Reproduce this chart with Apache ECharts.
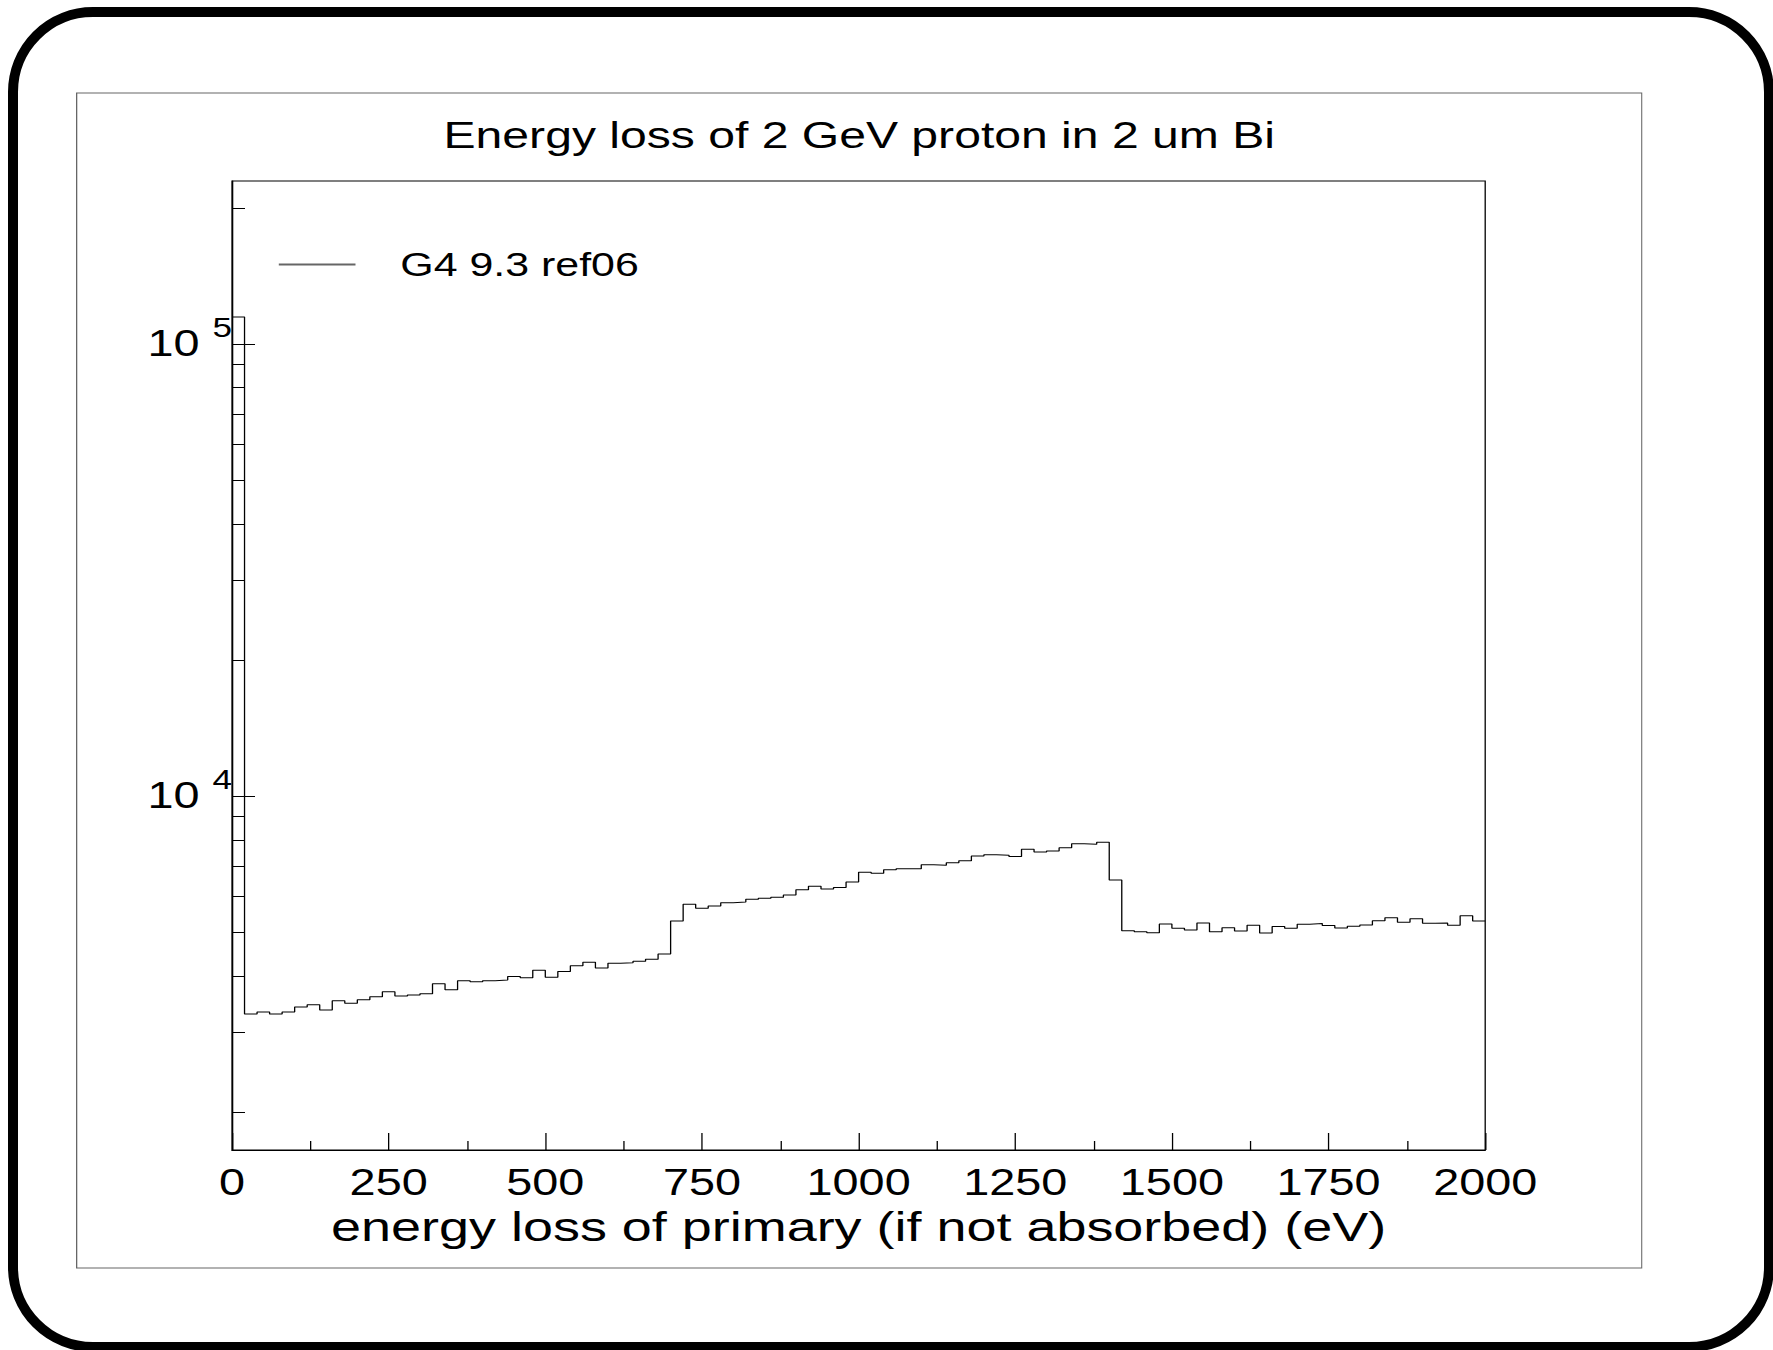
<!DOCTYPE html>
<html>
<head>
<meta charset="utf-8">
<title>Energy loss of 2 GeV proton in 2 um Bi</title>
<script src="https://cdn.jsdelivr.net/npm/echarts@6/dist/echarts.min.js"></script>
<style>
html, body { margin: 0; padding: 0; background: #fff; width: 1773px; height: 1350px; overflow: hidden; }
#frame { position: absolute; left: 8px; top: 7px; width: 1766px; height: 1345px; border: 10px solid #000; border-radius: 85px; box-sizing: border-box; }
/* ROOT text is stretched horizontally, so the chart is drawn narrow and stretched */
#main { position: absolute; left: 76px; top: 0; width: 1205px; height: 1350px; transform: scaleX(1.3); transform-origin: 0 0; }
</style>
</head>
<body>
<div id="frame"></div>
<div id="main"></div>
<script>
var titleText = 'Energy loss of 2 GeV proton in 2 um Bi';
var xTitle = 'energy loss of primary (if not absorbed) (eV)';
var seriesName = 'G4 9.3 ref06';

// histogram: 100 bins of 20 eV from 0 to 2000
var binWidth = 20;
var xMin = 0;
var xMax = 2000;
var counts = [
  114600, 3295, 3327, 3295, 3327, 3413, 3454, 3361, 3526, 3478,
  3544, 3597, 3690, 3610, 3628, 3653, 3844, 3728, 3903, 3883,
  3903, 3917, 3990, 3963, 4114, 3970, 4093, 4213, 4285, 4164,
  4264, 4278, 4307, 4351, 4470, 5291, 5759, 5643, 5710, 5807,
  5827, 5907, 5937, 5967, 6039, 6204, 6311, 6225, 6278, 6451,
  6777, 6743, 6871, 6905, 6905, 7047, 7025, 7121, 7193, 7368,
  7417, 7392, 7343, 7621, 7518, 7556, 7685, 7843, 7816, 7897,
  6518, 5035, 5010, 4985, 5212, 5096, 5052, 5236, 5010, 5114,
  5027, 5177, 4977, 5141, 5096, 5203, 5220, 5167, 5106, 5150,
  5184, 5299, 5380, 5254, 5353, 5228, 5236, 5177, 5435, 5291
];

// log y axis
var yMin = 1648;
var yMax = 229200;
var yMajorTicks = [10000, 100000];
var yMinorTicks = [2000, 3000, 4000, 5000, 6000, 7000, 8000, 9000,
  20000, 30000, 40000, 50000, 60000, 70000, 80000, 90000, 200000];

var font = 'Liberation Sans, Arial, Helvetica, sans-serif';

// bin edges -> step points
var points = counts.map(function (c, i) { return [xMin + i * binWidth, c]; });
points.push([xMax, counts[counts.length - 1]]);

var myChart = echarts.init(document.getElementById('main'), null, { renderer: 'svg' });

var option = {
  animation: false,
  backgroundColor: 'transparent',
  textStyle: { fontFamily: font, color: '#000' },
  title: {
    text: titleText,
    left: 'center',
    top: 117,
    padding: 0,
    textStyle: { fontSize: 37, fontWeight: 'normal', color: '#000', fontFamily: font }
  },
  legend: {
    data: [seriesName],
    left: 151,
    top: 243,
    icon: 'rect',
    itemWidth: 59,
    itemHeight: 2,
    itemStyle: { color: '#666' },
    formatter: '{t|{name}}',
    textStyle: {
      color: '#000', fontFamily: font, fontSize: 33,
      rich: { t: { fontSize: 33, fontFamily: font, color: '#000', padding: [0, 0, 0, 29.5] } }
    }
  },
  graphic: [{
    type: 'rect',
    silent: true,
    shape: { x: 0.5, y: 93, width: 1204, height: 1175 },
    style: { fill: 'none', stroke: '#666', lineWidth: 1 }
  }],
  grid: {
    left: 120,
    right: 121,
    top: 181,
    bottom: 200,
    show: true,
    borderColor: '#000',
    borderWidth: 1,
    backgroundColor: 'transparent'
  },
  xAxis: {
    type: 'value',
    min: xMin,
    max: xMax,
    interval: 250,
    name: xTitle,
    nameLocation: 'middle',
    nameGap: 46,
    nameTextStyle: { fontSize: 41.5, lineHeight: 36, color: '#000', fontFamily: font },
    axisLine: { show: true, lineStyle: { color: '#000', width: 1 } },
    axisTick: { inside: true, length: 17, lineStyle: { color: '#000', width: 1 } },
    minorTick: { show: true, splitNumber: 2, length: 9, lineStyle: { color: '#000', width: 1 } },
    axisLabel: {
      fontSize: 36, lineHeight: 28, color: '#000', margin: 18, fontFamily: font,
      formatter: function (v) { return String(v); }
    },
    splitLine: { show: false }
  },
  yAxis: [{
    type: 'log',
    logBase: 10,
    min: yMin,
    max: yMax,
    axisLine: { show: true, lineStyle: { color: '#000', width: 1 } },
    axisTick: { show: true, inside: true, length: 17.7, customValues: yMajorTicks, lineStyle: { color: '#000', width: 1 } },
    axisLabel: {
      customValues: yMajorTicks,
      margin: 0,
      formatter: function (v) {
        var p = Math.round(Math.log(v) / Math.LN10);
        if (Math.abs(Math.pow(10, p) - v) > 1e-6 * v) return '';
        return '{b|10}{s|' + p + '}';
      },
      rich: {
        b: { fontSize: 36, color: '#000', fontFamily: font },
        s: { fontSize: 27, color: '#000', fontFamily: font, padding: [0, 0, 32, 10] }
      }
    },
    splitLine: { show: false }
  }, {
    type: 'log',
    logBase: 10,
    min: yMin,
    max: yMax,
    position: 'left',
    offset: 0,
    axisLine: { show: false },
    axisTick: { show: true, inside: true, length: 10, customValues: yMinorTicks, lineStyle: { color: '#000', width: 1 } },
    axisLabel: { show: false },
    splitLine: { show: false }
  }],
  series: [{
    type: 'line',
    name: seriesName,
    yAxisIndex: 0,
    step: 'end',
    symbol: 'none',
    data: points,
    lineStyle: { color: '#000', width: 1 },
    itemStyle: { color: '#000' }
  }]
};

myChart.setOption(option);
</script>
</body>
</html>
